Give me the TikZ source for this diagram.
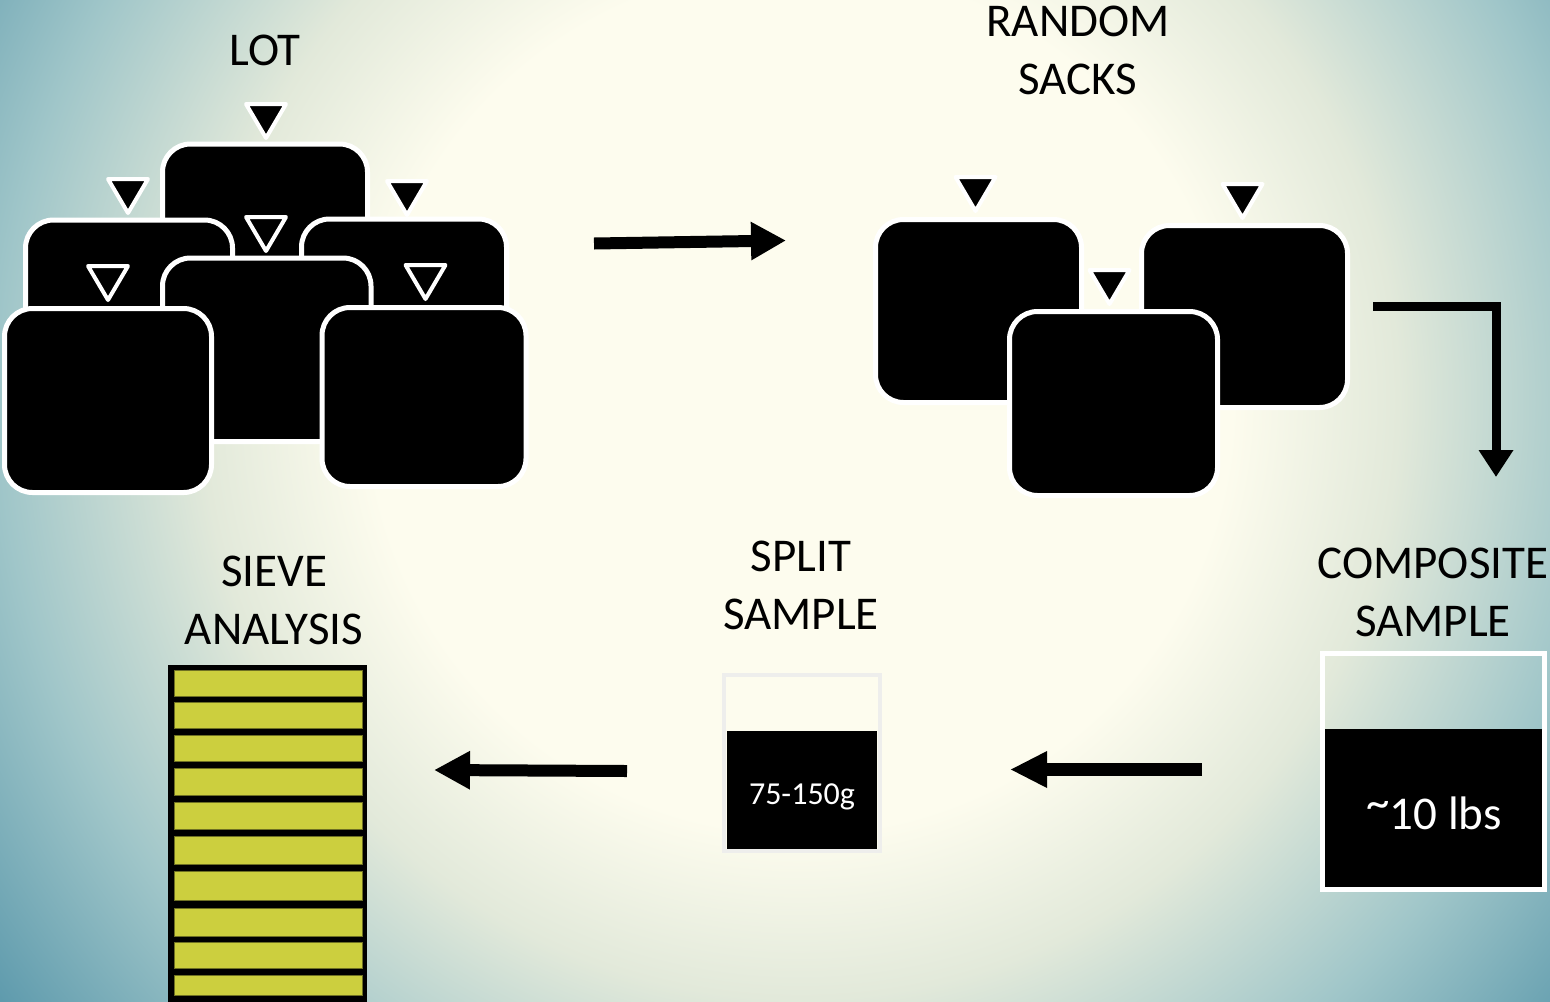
\documentclass[tikz,border=0pt]{standalone}
\usepackage{fontspec}
\setmainfont{Carlito}
\usetikzlibrary{arrows.meta}
\definecolor{cream}{RGB}{253,252,238}
\definecolor{bgA}{RGB}{226,233,218}
\definecolor{bgB}{RGB}{160,198,201}
\definecolor{bgC}{RGB}{95,155,173}
\definecolor{sieveY}{RGB}{204,207,62}
\definecolor{sieveE}{RGB}{110,112,35}
\definecolor{jarEdge}{RGB}{238,238,236}
\pgfdeclareradialshading{bgshade}{\pgfpoint{0bp}{0bp}}{color(0bp)=(cream); color(9.8bp)=(cream); color(13.6bp)=(bgA); color(18.2bp)=(bgB); color(22.7bp)=(bgC); color(50bp)=(bgC)}
\tikzset{
  bag/.style={fill=black, draw=white, line width=2.5pt, rounded corners=14pt},
  tri/.pic={\draw[fill=black, draw=white, line width=2pt, line join=round] (-20,0) -- (20,0) -- (0,34) -- cycle;},
  heading/.style={font=\fontsize{23.5pt}{29pt}\selectfont, align=center, inner sep=0pt, text=black},
  flow/.style={line width=6pt, -{Triangle[length=18pt,width=18pt]}},
  jartext/.style={text=white, inner sep=0pt}
}
\begin{document}
\begin{tikzpicture}[x=0.5pt,y=-0.5pt]
\useasboundingbox (0,0) rectangle (1550,1001);
\begin{scope}
  \clip (0,0) rectangle (1550,1001);
  \shade[shading=bgshade] (800,400) circle[radius=1100];
\end{scope}

% LOT pile
\draw[bag] (162.5,144) rectangle (367.5,440);
\pic at (266,104) {tri};
\draw[bag] (25.5,220) rectangle (232.5,400);
\pic at (128,179) {tri};
\draw[bag] (301.5,219) rectangle (506.5,400);
\pic at (407,181) {tri};
\pic at (266,217) {tri};
\draw[bag] (162.5,258) rectangle (371,441.5);
\pic at (108,266) {tri};
\draw[bag] (4.5,308.5) rectangle (211.5,492.5);
\pic at (425.5,265) {tri};
\draw[bag] (322,307.5) rectangle (526,486.5);

% random sacks
\draw[bag] (875.5,219.5) rectangle (1081.5,402.5);
\pic at (975.5,177) {tri};
\draw[bag] (1141.5,225.5) rectangle (1347.5,407.5);
\pic at (1242.5,184) {tri};
\pic at (1109.5,270) {tri};
\draw[bag] (1009.5,311.5) rectangle (1217.5,495.5);

% headings
\node[heading] (lot) at (265,50.5) {LOT};
\node[heading] (random) at (1078,50.5) {RANDOM\\SACKS};
\node[heading] (sieve) at (274,600.5) {SIEVE\\ANALYSIS};
\node[heading] (split) at (801,585.5) {SPLIT\\SAMPLE};
\node[heading] (composite) at (1433,592) {COMPOSITE\\SAMPLE};

% composite sample jar
\fill[black] (1323,729) rectangle (1544,889);
\draw[white, line width=2.5pt] (1322.5,653.5) rectangle (1544.5,889.5);
\node[jartext, font=\fontsize{23.5pt}{28pt}\selectfont, anchor=base] (lbs) at (1434,829) {\raisebox{0.22em}{\textasciitilde}10 lbs};

% split sample jar
\fill[black] (726.5,730.5) rectangle (877,849);
\draw[jarEdge, line width=2pt] (723.7,675) rectangle (879.7,851);
\node[jartext, font=\fontsize{16pt}{19pt}\selectfont, anchor=base] (grams) at (802,804) {75-150g};

% sieve stack
\fill[black] (168,665) rectangle (367,1010);
\foreach \t/\b in {670/696, 702.7/728, 735/761.7, 768/795.7, 802.7/829, 836.7/864, 871.7/900.7, 908/936, 942.7/968, 975/995}
  \filldraw[fill=sieveY, draw=sieveE, line width=0.4pt] (174,\t) rectangle (362,\b);

% connectors
\coordinate (a1s) at (594,243.5);
\coordinate (a1e) at (786,240.5);
\draw[flow, line width=6pt, -{Triangle[length=17.5pt,width=18pt]}] (a1s) -- (a1e);
\coordinate (a2s) at (1373,306);
\coordinate (a2e) at (1496,477);
\draw[flow, line width=4.5pt, -{Triangle[length=13.5pt,width=16.5pt]}] (a2s) -| (a2e);
\coordinate (a3s) at (1202,769.5);
\coordinate (a3e) at (1010,769.5);
\draw[flow, line width=6.5pt, -{Triangle[length=18.5pt,width=17pt]}] (a3s) -- (a3e);
\coordinate (a4s) at (627,771);
\coordinate (a4e) at (434,770);
\draw[flow] (a4s) -- (a4e);
\end{tikzpicture}
\end{document}
